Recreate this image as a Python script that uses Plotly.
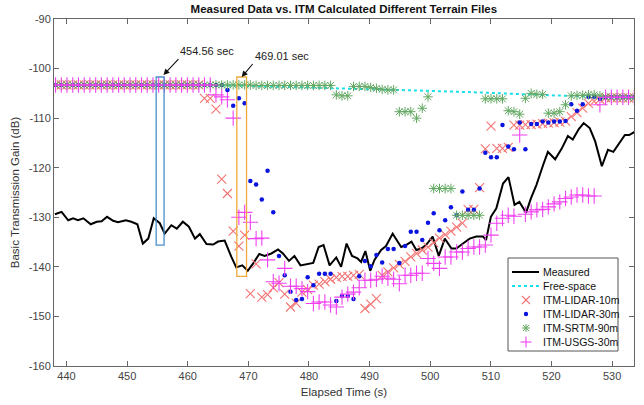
import plotly.graph_objects as go

# ---------------- data ----------------
measured_time = [438.1,439.2,440.3,441.1,441.9,442.8,444.0,445.0,445.8,446.7,
 447.7,448.5,449.8,450.7,451.7,452.6,453.5,454.4,455.4,456.2,
 457.3,458.2,459.2,460.2,461.2,462.0,463.1,464.2,465.0,466.1,
 467.2,468.0,469.0,469.9,470.8,471.8,472.7,473.8,474.9,475.7,
 476.7,477.6,478.6,479.6,480.7,481.6,482.4,483.4,484.5,485.3,
 486.2,487.1,488.0,488.6,489.3,490.1,490.8,491.9,492.7,493.8,
 494.7,495.2,496.0,496.9,497.7,498.5,499.3,500.4,501.4,502.4,
 503.5,504.3,505.4,506.5,507.6,508.7,509.2,510.0,510.9,512.0,
 512.9,513.9,514.7,515.8,516.6,517.5,518.6,519.4,520.6,521.7,
 522.7,523.5,524.5,525.3,526.3,527.2,528.3,529.3,530.2,531.2,
 532.1,532.8,533.8]
measured_db = [-129.4,-128.9,-130.6,-130.2,-130.6,-130.2,-131.4,-130.9,-130.8,-129.9,
 -130.7,-131.0,-130.6,-130.9,-131.4,-135.3,-134.3,-130.2,-131.2,-133.3,
 -131.6,-132.3,-130.9,-131.9,-134.3,-133.4,-135.4,-135.5,-134.9,-134.7,
 -138.0,-140.1,-139.7,-140.8,-139.3,-137.4,-137.8,-137.3,-136.5,-137.3,
 -138.8,-137.8,-139.7,-139.5,-139.2,-136.0,-135.6,-139.7,-138.1,-140.0,
 -135.3,-137.8,-138.3,-139.0,-136.8,-140.8,-138.6,-136.6,-135.8,-133.3,
 -134.9,-136.0,-135.6,-134.9,-136.6,-136.3,-135.6,-133.9,-137.8,-134.3,
 -136.3,-136.3,-135.3,-134.3,-133.9,-133.9,-134.6,-129.9,-128.2,-123.2,
 -121.9,-127.5,-126.9,-129.1,-126.2,-123.5,-119.5,-116.8,-118.3,-116.1,
 -113.6,-114.3,-112.2,-111.0,-112.0,-114.7,-119.7,-116.4,-116.8,-115.1,
 -113.4,-113.4,-112.7]

freespace_time = [437.95, 450, 460, 470, 480, 490, 500, 510, 520, 533.6]
freespace_db = [-103.3, -103.3, -103.3, -103.5, -103.8, -104.1, -104.5, -104.9, -105.4, -105.9]

itm_time = [438.20,439.15,440.09,441.04,441.98,442.93,443.87,444.82,445.76,446.71,
 447.65,448.60,449.54,450.49,451.43,452.38,453.32,454.27,455.21,456.16,
 457.10,458.05,458.99,459.94,460.88,461.83,462.77,463.72,464.66,465.61,
 466.55,467.50,468.44,469.39,470.33,471.28,472.22,473.17,474.11,475.06,
 476.00,476.95,477.89,478.84,479.78,480.73,481.67,482.62,483.56,484.51,
 485.45,486.40,487.34,488.29,489.23,490.18,491.12,492.07,493.01,493.96,
 494.90,495.85,496.79,497.74,498.68,499.63,500.57,501.52,502.46,503.41,
 504.35,505.30,506.24,507.19,508.13,509.08,510.02,510.97,511.91,512.86,
 513.80,514.75,515.69,516.64,517.58,518.53,519.47,520.42,521.36,522.31,
 523.25,524.20,525.14,526.09,527.03,527.98,528.92,529.87,530.81,531.76,
 532.70,533.65]

lidar10_db = [-103.3,-103.3,-103.3,-103.3,-103.3,-103.3,-103.3,-103.3,-103.3,-103.3,
 -103.3,-103.3,-103.3,-103.3,-103.3,-103.3,-103.3,-103.3,-103.3,-103.3,
 -103.3,-103.3,-103.3,-103.3,-103.3,-103.3,-106.0,-106.0,-108.2,-122.3,
 -125.2,-132.8,-135.8,-133.6,-145.4,-139.4,-146.1,-145.6,-144.2,-143.2,
 -145.5,-148.1,-147.3,-145.1,-144.6,-143.7,-143.5,-143.0,-142.5,-142.1,
 -141.9,-141.9,-141.7,-141.5,-148.4,-147.5,-146.4,-141.7,-141.0,-140.2,
 -139.5,-138.9,-138.0,-137.3,-136.6,-136.0,-135.1,-134.2,-133.5,-132.8,
 -132.0,-131.2,-128.4,-128.4,-124.0,-116.2,-111.6,-116.1,-116.1,-115.9,
 -111.4,-111.4,-111.3,-111.3,-111.2,-111.1,-111.0,-110.9,-110.8,-110.6,
 -109.7,-108.9,-108.0,-107.0,-106.6,-106.2,-105.9,-105.9,-105.9,-105.9,
 -105.9,-105.9]

lidar30_db = [-103.3,-103.3,-103.3,-103.3,-103.3,-103.3,-103.3,-103.3,-103.3,-103.3,
 -103.3,-103.3,-103.3,-103.3,-103.3,-103.3,-103.3,-103.3,-103.3,-103.3,
 -103.3,-103.3,-103.3,-103.3,-103.3,-103.3,-103.3,-103.3,-103.3,-103.3,
 -104.3,-107.5,-106.0,-107.0,-122.7,-123.4,-126.4,-120.6,-129.0,-137.8,
 -141.7,-145.0,-146.7,-146.5,-142.1,-143.7,-141.4,-141.4,-141.4,-146.9,
 -145.9,-145.9,-146.5,-141.9,-138.8,-139.9,-137.6,-139.1,-136.4,-136.4,
 -139.2,-135.8,-132.9,-132.9,-134.6,-131.1,-129.2,-132.6,-130.6,-128.0,
 -129.6,-124.8,-128.5,-128.5,-124.2,-117.0,-117.9,-117.9,-111.4,-115.7,
 -116.3,-110.9,-116.3,-111.2,-111.2,-110.7,-110.9,-110.7,-110.7,-110.6,
 -107.2,-108.5,-107.2,-105.7,-105.7,-106.1,-105.8,-105.8,-105.8,-105.8,
 -105.8,-105.8]

srtm90_db = [-103.3,-103.3,-103.3,-103.3,-103.3,-103.3,-103.3,-103.3,-103.3,-103.3,
 -103.3,-103.3,-103.3,-103.3,-103.3,-103.3,-103.3,-103.3,-103.3,-103.3,
 -103.3,-103.3,-103.3,-103.3,-103.3,-103.3,-103.3,-103.3,-103.3,-103.3,
 -103.3,-103.3,-103.3,-103.3,-103.3,-103.4,-103.4,-103.4,-103.4,-103.4,
 -103.4,-103.4,-103.4,-103.4,-103.4,-103.4,-103.4,-103.4,-103.4,-105.3,
 -105.5,-105.5,-103.6,-103.6,-103.6,-103.8,-104.0,-104.2,-104.3,-104.3,
 -108.7,-108.7,-108.7,-110.0,-108.0,-105.7,-124.2,-124.2,-124.2,-124.2,
 -129.6,-129.6,-129.6,-129.6,-129.6,-106.1,-106.1,-106.1,-106.1,-108.5,
 -108.7,-109.2,-106.0,-105.0,-105.2,-105.2,-109.0,-109.0,-108.7,-107.3,
 -105.5,-105.4,-105.4,-105.3,-105.3,-105.5,-105.7,-105.8,-105.8,-105.9,
 -105.9,-105.9]

usgs30_db = [-103.3,-103.3,-103.3,-103.3,-103.3,-103.3,-103.3,-103.3,-103.3,-103.3,
 -103.3,-103.3,-103.3,-103.3,-103.3,-103.3,-103.3,-103.3,-103.3,-103.3,
 -103.3,-103.3,-103.3,-103.3,-103.3,-103.3,-103.3,-103.3,-105.3,-105.7,
 -106.3,-110.0,-130.0,-129.0,-131.0,-134.3,-134.2,-138.6,-143.0,-143.3,
 -140.3,-143.9,-143.9,-144.4,-145.0,-147.4,-147.1,-147.1,-147.7,-148.1,
 -146.1,-145.5,-145.1,-144.2,-142.7,-142.7,-142.5,-141.9,-142.3,-142.5,
 -143.4,-141.7,-141.7,-141.3,-141.3,-138.3,-139.3,-140.3,-138.0,-138.0,
 -137.0,-137.0,-136.3,-136.0,-136.0,-135.6,-133.6,-131.2,-130.2,-129.6,
 -129.8,-113.4,-129.4,-128.9,-128.5,-128.4,-127.9,-127.3,-126.9,-126.2,
 -125.9,-125.5,-125.5,-125.7,-125.7,-107.3,-105.8,-105.8,-105.8,-105.8,
 -105.8,-105.8]

series_names = ["Measured", "Free-space", "ITM-LIDAR-10m", "ITM-LIDAR-30m",
                "ITM-SRTM-90m", "ITM-USGS-30m"]

y_ticks = [-160, -150, -140, -130, -120, -110, -100, -90]
y_tick_text = ["-160", "-150", "-140", "-130", "-120", "-110", "-100", "-90"]
x_ticks = [440, 450, 460, 470, 480, 490, 500, 510, 520, 530]

# highlighted windows: (t0, t1, bottom, top)
window_blue = (454.8, 456.1, -135.6, -101.7)
window_orange = (468.1, 469.7, -141.9, -101.7)
marker_labels = ["454.56 sec", "469.01 sec"]
marker_heads = [(456.0, -101.3), (468.9, -101.7)]

assert len(measured_time) == len(measured_db)
for s in (lidar10_db, lidar30_db, srtm90_db, usgs30_db):
    assert len(s) == len(itm_time)

FONT = "Arial, Liberation Sans, sans-serif"
C_MEAS, C_FREE = "black", "#19e0e8"
C_L10, C_L30, C_SRTM, C_USGS = "#f47474", "#0a14e0", "#62a862", "#f040f0"

fig = go.Figure()
fig.add_trace(go.Scatter(x=measured_time, y=measured_db, mode="lines", name=series_names[0],
                         line=dict(color=C_MEAS, width=2)))
fig.add_trace(go.Scatter(x=freespace_time, y=freespace_db, mode="lines", name=series_names[1],
                         line=dict(color=C_FREE, width=2, dash="dot")))
fig.add_trace(go.Scatter(x=itm_time, y=lidar10_db, mode="markers", name=series_names[2],
                         marker=dict(symbol="x-thin-open", size=9, color=C_L10,
                                     line=dict(width=1.1, color=C_L10))))
fig.add_trace(go.Scatter(x=itm_time, y=lidar30_db, mode="markers", name=series_names[3],
                         marker=dict(symbol="circle", size=4.5, color=C_L30,
                                     line=dict(width=0))))
fig.add_trace(go.Scatter(x=itm_time, y=srtm90_db, mode="markers", name=series_names[4],
                         marker=dict(symbol="asterisk-open", size=8, color=C_SRTM,
                                     line=dict(width=1, color=C_SRTM))))
fig.add_trace(go.Scatter(x=itm_time, y=usgs30_db, mode="markers", name=series_names[5],
                         marker=dict(symbol="cross-thin-open", size=11, color=C_USGS,
                                     line=dict(width=1.1, color=C_USGS))))

for (x0, x1, y0, y1), col in ((window_blue, "#4a8fcc"), (window_orange, "#f0aa3c")):
    fig.add_shape(type="rect", xref="x", yref="y", x0=x0, x1=x1, y0=y0, y1=y1,
                  line=dict(color=col, width=1.3), fillcolor="rgba(0,0,0,0)")

for txt, (hx, hy), (ax, ay) in zip(marker_labels, marker_heads, [(15, -16), (11, -13)]):
    fig.add_annotation(x=hx, y=hy, xref="x", yref="y", text=txt, showarrow=True,
                       ax=ax, ay=ay, xanchor="left", yanchor="bottom",
                       arrowhead=2, arrowsize=1.1, arrowwidth=1.1,
                       arrowcolor="#111", font=dict(family=FONT, size=11, color="#222"))

# ---------------- compact MATLAB-style legend (layout only) ----------------
PL, PR, PT, PB = 54, 634, 19, 366          # plot area in pixels


def px(xp):
    return (xp - PL) / (PR - PL)


def py(yp):
    return (PB - yp) / (PB - PT)


box_l, box_r, box_t, box_b = 508, 618, 258, 351
row_y = [272, 286, 300, 314, 328, 342]
sym_l, sym_r, sym_c, text_l = 512, 539, 526, 541

fig.add_shape(type="rect", xref="paper", yref="paper", x0=px(box_l), x1=px(box_r),
              y0=py(box_b), y1=py(box_t), line=dict(color="#555", width=1), fillcolor="white")
# line samples
fig.add_shape(type="line", xref="paper", yref="paper", x0=px(sym_l), x1=px(sym_r),
              y0=py(row_y[0]), y1=py(row_y[0]), line=dict(color=C_MEAS, width=2))
fig.add_shape(type="line", xref="paper", yref="paper", x0=px(sym_l), x1=px(sym_r),
              y0=py(row_y[1]), y1=py(row_y[1]), line=dict(color=C_FREE, width=2, dash="dot"))


def glyph(segments, row, color, width=1.1):
    for (a, b, c, d) in segments:
        fig.add_shape(type="line", xref="paper", yref="paper",
                      xsizemode="pixel", ysizemode="pixel",
                      xanchor=px(sym_c), yanchor=py(row_y[row]),
                      x0=a, y0=b, x1=c, y1=d, line=dict(color=color, width=width))


glyph([(-4, -4, 4, 4), (-4, 4, 4, -4)], 2, C_L10)
fig.add_shape(type="circle", xref="paper", yref="paper", xsizemode="pixel", ysizemode="pixel",
              xanchor=px(sym_c), yanchor=py(row_y[3]), x0=-2.2, x1=2.2, y0=-2.2, y1=2.2,
              fillcolor=C_L30, line=dict(width=0))
glyph([(-4, 0, 4, 0), (0, -4, 0, 4), (-3, -3, 3, 3), (-3, 3, 3, -3)], 4, C_SRTM, 1)
glyph([(-5.5, 0, 5.5, 0), (0, -5.5, 0, 5.5)], 5, C_USGS)

for name, ry in zip(series_names, row_y):
    fig.add_annotation(x=px(text_l), y=py(ry), xref="paper", yref="paper", text=name,
                       showarrow=False, xanchor="left", yanchor="middle",
                       font=dict(family=FONT, size=10.5, color="#111"))

fig.update_layout(
    width=644, height=405,
    margin=dict(l=PL, r=644 - PR, t=PT, b=405 - PB),
    paper_bgcolor="white", plot_bgcolor="white",
    font=dict(family=FONT, size=11, color="#333"),
    title=dict(text="<b>Measured Data vs. ITM Calculated Different Terrain Files</b>",
               x=0.534, xanchor="center", y=1 - 9 / 405, yanchor="middle", yref="container",
               font=dict(family=FONT, size=11.5, color="#111")),
    showlegend=False,
)
fig.update_xaxes(range=[437.95, 533.6], tickvals=x_ticks, ticks="inside", ticklen=5,
                 showline=True, linecolor="#666", linewidth=1, mirror="ticks",
                 tickcolor="#666", showgrid=False, zeroline=False,
                 tickfont=dict(family=FONT, size=11, color="#444"),
                 title=dict(text="Elapsed Time (s)", standoff=6,
                            font=dict(family=FONT, size=11.5, color="#333")))
fig.update_yaxes(range=[-160, -90], tickvals=y_ticks, ticktext=y_tick_text, ticks="inside",
                 ticklen=5, showline=True, linecolor="#666", linewidth=1, mirror="ticks",
                 tickcolor="#666", showgrid=False, zeroline=False,
                 tickfont=dict(family=FONT, size=11, color="#444"),
                 title=dict(text="Basic Transmission Gain (dB)", standoff=6,
                            font=dict(family=FONT, size=11.5, color="#333")))

fig.write_html("out.html")
